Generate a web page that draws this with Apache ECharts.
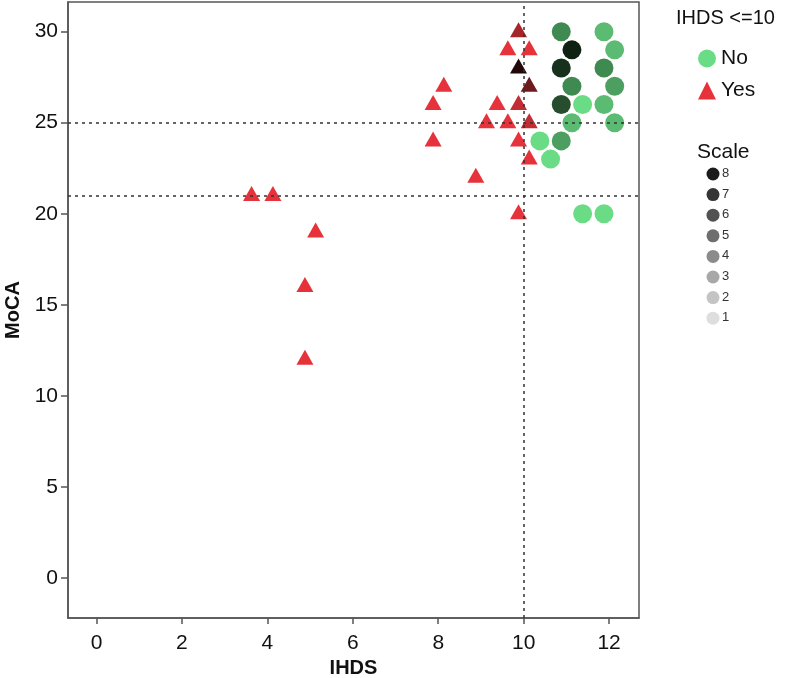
<!DOCTYPE html>
<html>
<head>
<meta charset="utf-8">
<script src="https://cdn.jsdelivr.net/npm/echarts@6/dist/echarts.min.js"></script>
<style>html,body{margin:0;padding:0;background:#fff}#c{width:787px;height:678px}</style>
</head>
<body>
<div id="c"></div>
<script>
// ---- data ----
var noX     = [10.88, 11.88, 11.13, 12.13, 10.88, 11.88, 11.13, 12.13, 10.88, 11.38, 11.88, 11.13, 12.13, 10.38, 10.88, 10.63, 11.38, 11.88];
var noY     = [30,    30,    29,    29,    28,    28,    27,    27,    26,    26,    26,    25,    25,    24,    24,    23,    20,    20];
var noCount = [4,     2,     8,     2,     7,     4,     4,     3,     6,     1,     2,     2,     2,     1,     3,     1,     1,     1];

var yesX     = [9.88, 9.63, 10.13, 9.88, 10.13, 8.13, 7.88, 9.38, 9.88, 9.13, 9.63, 10.13, 7.88, 9.88, 10.13, 8.88, 9.88, 3.63, 4.13, 5.13, 4.88, 4.88];
var yesY     = [30,   29,   29,    28,   27,    27,   26,   26,   26,   25,   25,   25,    24,   24,   23,    22,   20,   21,   21,   19,   16,   12];
var yesCount = [3,    1,    1,     8,    5,     1,    1,    1,    2,    1,    1,    2,     1,    1,    1,     1,    1,    1,    1,    1,    1,    1];

var refY = [25, 21];
var refX = [10];

var xTicks = [0, 2, 4, 6, 8, 10, 12];
var yTicks = [0, 5, 10, 15, 20, 25, 30];

var scaleLevels = [8, 7, 6, 5, 4, 3, 2, 1];
var scaleGrays  = ['#1b1b1b', '#353535', '#525252', '#6e6e6e', '#8b8b8b', '#a8a8a8', '#c4c4c4', '#dedede'];

var greenShades = ['#6bdc86', '#5bbb73', '#4c9f60', '#3f8a51', '#30673d', '#254d2e', '#17311d', '#0e2113'];
var redShades   = ['#e6323a', '#c42c33', '#a5252b', '#8a2025', '#6e1a1e', '#521317', '#360d0f', '#230809'];

// ---- build ----
function build(xs, ys, cs, shades) {
  return xs.map(function (x, i) {
    return { value: [x, ys[i], cs[i]], itemStyle: { color: shades[cs[i] - 1] } };
  });
}

var refData = refY.map(function (v) { return { yAxis: v }; })
  .concat(refX.map(function (v) { return { xAxis: v }; }));

var fam = '"Liberation Sans", Arial, sans-serif';

var graphics = [{
  type: 'text', left: 676, top: 8,
  style: { text: 'IHDS <=10', font: '20px ' + fam, fill: '#111' }
}, {
  type: 'text', left: 697, top: 142,
  style: { text: 'Scale', font: '21px ' + fam, fill: '#111' }
}];
scaleLevels.forEach(function (lv, i) {
  graphics.push({
    type: 'circle', shape: { cx: 713, cy: 174 + i * 20.6, r: 6.5 },
    style: { fill: scaleGrays[i] }
  });
  graphics.push({
    type: 'text', left: 722, top: 174 + i * 20.6 - 7,
    style: { text: String(lv), font: '13px ' + fam, fill: '#333' }
  });
});

var nameFont = { fontFamily: fam, fontSize: 20, fontWeight: 'bold', color: '#111' };

var chart = echarts.init(document.getElementById('c'), null, { renderer: 'canvas' });
chart.setOption({
  animation: false,
  backgroundColor: '#fff',
  grid: { left: 68, top: 2, right: 148, bottom: 60, outerBoundsMode: 'none', containLabel: false,
          show: true, borderColor: '#555', borderWidth: 1.5, backgroundColor: 'transparent' },
  xAxis: {
    type: 'value', min: -0.667, max: 12.7,
    name: 'IHDS', nameLocation: 'middle', nameGap: 35, nameTextStyle: nameFont,
    axisLine: { show: true, onZero: false, lineStyle: { color: '#555', width: 1.5 } },
    axisTick: { show: true, inside: false, length: 6, customValues: xTicks, lineStyle: { color: '#555', width: 1.5 } },
    axisLabel: { customValues: xTicks, margin: 15, fontFamily: fam, fontSize: 21, color: '#111' },
    splitLine: { show: false }
  },
  yAxis: {
    type: 'value', min: -2.21, max: 31.63,
    name: 'MoCA', nameLocation: 'middle', nameGap: 43, nameTextStyle: nameFont,
    axisLine: { show: true, onZero: false, lineStyle: { color: '#555', width: 1.5 } },
    axisTick: { show: true, inside: false, length: 7, customValues: yTicks, lineStyle: { color: '#555', width: 1.5 } },
    axisLabel: { customValues: yTicks, margin: 10, fontFamily: fam, fontSize: 21, color: '#111' },
    splitLine: { show: false }
  },
  legend: {
    orient: 'vertical', left: 698, top: 48, padding: 0, itemWidth: 18, itemHeight: 18, itemGap: 11,
    textStyle: { fontFamily: fam, fontSize: 21, color: '#111' },
    data: [{ name: 'No', icon: 'circle' }, { name: 'Yes', icon: 'triangle' }]
  },
  graphic: graphics,
  series: [{
    name: 'No', type: 'scatter', symbol: 'circle', symbolSize: 19,
    itemStyle: { color: greenShades[0], opacity: 1 },
    data: build(noX, noY, noCount, greenShades),
    markLine: {
      silent: true, symbol: 'none', label: { show: false },
      lineStyle: { color: '#333', width: 1.5, type: [3, 4] },
      data: refData
    },
    z: 3
  }, {
    name: 'Yes', type: 'scatter', symbol: 'triangle', symbolSize: [17, 15], symbolOffset: [0, -2],
    itemStyle: { color: redShades[0], opacity: 1 },
    data: build(yesX, yesY, yesCount, redShades),
    z: 3
  }]
});
</script>
</body>
</html>
